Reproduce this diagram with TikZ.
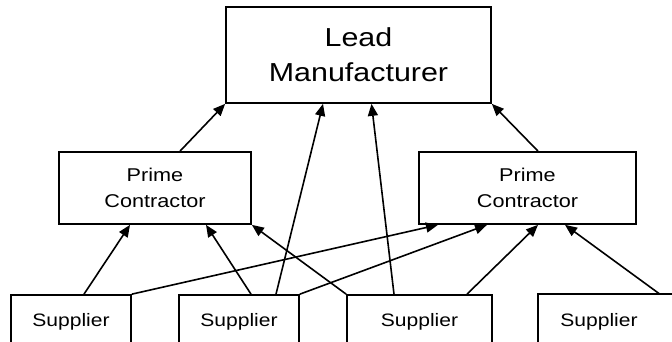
\documentclass[tikz,border=0pt]{standalone}
\usepackage{fontspec}
\newfontfamily\unifont{Liberation Sans}[FakeStretch=1.17]
\usetikzlibrary{arrows.meta}
\begin{document}
\begin{tikzpicture}[x=1pt,y=-1pt,
  box/.style={draw,line width=1.7pt,inner sep=0pt,align=center},
  leadbox/.style={box,minimum width=265pt,minimum height=96pt,font=\unifont\fontsize{26}{35}\selectfont},
  primebox/.style={box,minimum height=72pt,font=\unifont\fontsize{18.5}{26}\selectfont},
  suppbox/.style={box,minimum height=53pt,font=\unifont\fontsize{18}{22}\selectfont},
  arr/.style={line width=1.6pt,-{Triangle[length=12pt,width=10pt]}}]
\useasboundingbox (0,0) rectangle (672,342);
\clip (0,0) rectangle (672,342);
\node[leadbox] (LM) at (358.5,55) {Lead\\Manufacturer};
\node[primebox,minimum width=192pt] (LP) at (155,188) {Prime\\Contractor};
\node[primebox,minimum width=217pt] (RP) at (527.5,188) {Prime\\Contractor};
\node[suppbox,minimum width=120pt] (S1) at (71,321.5) {Supplier};
\node[suppbox,minimum width=120pt] (S2) at (239,321.5) {Supplier};
\node[suppbox,minimum width=145pt] (S3) at (419.5,321.5) {Supplier};
\node[suppbox,draw=none,minimum width=120pt] (S4) at (599,321.5) {Supplier};
\draw[line width=1.7pt] ([yshift=-30pt]S4.south west) -- (S4.north west) -- ([xshift=40pt]S4.north east);
% to lead
\draw[arr] ([xshift=25pt]LP.north) -- (LM.south west);
\draw[arr] ([xshift=37pt]S2.north) -- ([xshift=-35.5pt]LM.south);
\draw[arr] ([xshift=-25.5pt]S3.north) -- ([xshift=13pt]LM.south);
\draw[arr] ([xshift=10.5pt]RP.north) -- (LM.south east);
% to left prime
\draw[arr] ([xshift=13pt]S1.north) -- ([xshift=-25pt]LP.south);
\draw[arr] ([xshift=12pt]S2.north) -- ([xshift=51pt]LP.south);
\draw[arr] (S3.north west) -- (LP.south east);
% to right prime
\draw[arr] (S1.north east) -- ([xshift=-89.5pt]RP.south);
\draw[arr] (S2.north east) -- ([xshift=-40.5pt]RP.south);
\draw[arr] ([xshift=47.5pt]S3.north) -- ([xshift=10.5pt]RP.south);
\draw[arr] (S4.north east) -- ([xshift=37.5pt]RP.south);
\end{tikzpicture}
\end{document}
